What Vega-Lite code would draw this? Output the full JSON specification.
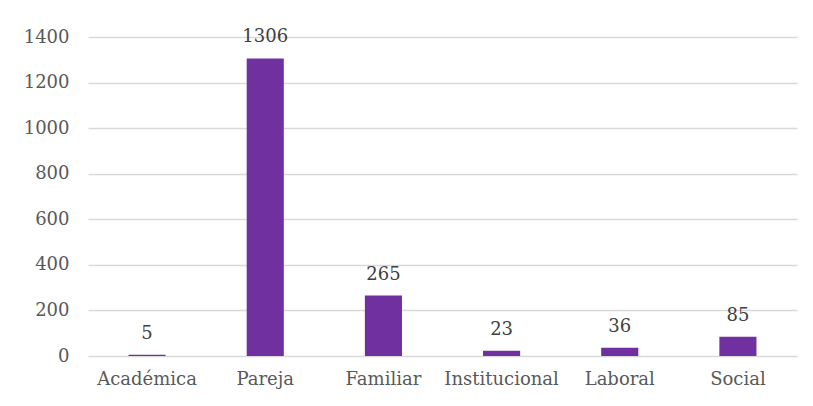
{
  "$schema": "https://vega.github.io/schema/vega-lite/v6.json",
  "autosize": "none",
  "width": 709,
  "height": 319,
  "padding": {"left": 88, "top": 37, "right": 16, "bottom": 50},
  "background": "white",
  "config": {"view": {"stroke": null}, "font": "DejaVu Serif"},
  "data": {"values": [
    {"categoria": "Académica", "valor": 5},
    {"categoria": "Pareja", "valor": 1306},
    {"categoria": "Familiar", "valor": 265},
    {"categoria": "Institucional", "valor": 23},
    {"categoria": "Laboral", "valor": 36},
    {"categoria": "Social", "valor": 85}
  ]},
  "encoding": {
    "x": {"field": "categoria", "type": "nominal", "sort": null,
      "scale": {"paddingInner": 0.686, "paddingOuter": 0.343},
      "axis": {"title": null, "labelAngle": 0, "ticks": false, "domain": false, "labelPadding": 14,
        "labelFont": "DejaVu Serif", "labelFontSize": 18, "labelColor": "#595959"}},
    "y": {"field": "valor", "type": "quantitative",
      "scale": {"domain": [0, 1400]},
      "axis": {"title": null, "format": "d", "values": [0, 200, 400, 600, 800, 1000, 1200, 1400], "ticks": false, "domain": false,
        "labelPadding": 19, "labelFont": "DejaVu Serif", "labelFontSize": 18, "labelColor": "#595959",
        "gridColor": "#d9d9d9", "gridWidth": 1.5}}
  },
  "layer": [
    {"mark": {"type": "bar", "color": "#7030a0"}},
    {"mark": {"type": "text", "baseline": "alphabetic", "dy": -16, "font": "DejaVu Serif", "fontSize": 18, "color": "#404040"},
      "encoding": {"text": {"field": "valor", "type": "quantitative"}}}
  ]
}
